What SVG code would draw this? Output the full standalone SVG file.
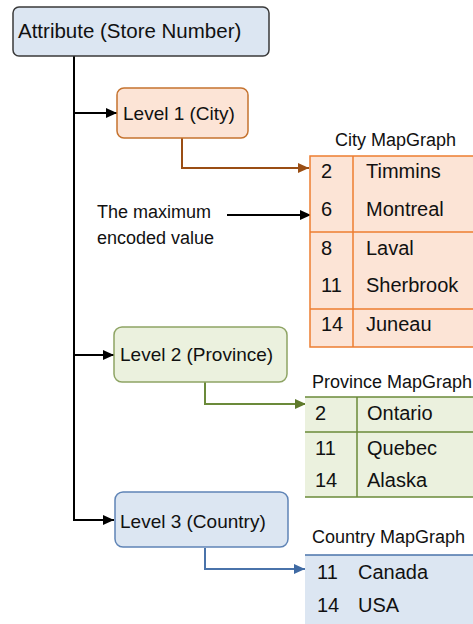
<svg xmlns="http://www.w3.org/2000/svg" width="473" height="624" viewBox="0 0 473 624">
<style>
text{font-family:"Liberation Sans",Arial,sans-serif;fill:#111;}
.lbl{font-size:19px;}
.cell{font-size:20px;}
.ttl{font-size:18px;}
.note{font-size:18px;}
.blk{stroke:#000;stroke-width:2;fill:none;}
</style>
<defs>
<marker id="aBlk" markerUnits="userSpaceOnUse" markerWidth="12" markerHeight="12" viewBox="0 0 12 12" refX="11" refY="6" orient="auto"><path d="M0,1 L11,6 L0,11 Z" fill="#000"/></marker>
<marker id="aOr" markerUnits="userSpaceOnUse" markerWidth="12" markerHeight="12" viewBox="0 0 12 12" refX="11" refY="6" orient="auto"><path d="M0,1 L11,6 L0,11 Z" fill="#9a4e14"/></marker>
<marker id="aGr" markerUnits="userSpaceOnUse" markerWidth="12" markerHeight="12" viewBox="0 0 12 12" refX="11" refY="6" orient="auto"><path d="M0,1 L11,6 L0,11 Z" fill="#5f7a2c"/></marker>
<marker id="aBl" markerUnits="userSpaceOnUse" markerWidth="12" markerHeight="12" viewBox="0 0 12 12" refX="11" refY="6" orient="auto"><path d="M0,1 L11,6 L0,11 Z" fill="#3f6aa3"/></marker>
</defs>
<rect width="473" height="624" fill="#fff"/>

<g id="connectors">
<path class="blk" d="M74,56 V520 H114" marker-end="url(#aBlk)"/>
<path class="blk" d="M74,113 H117" marker-end="url(#aBlk)"/>
<path class="blk" d="M74,355 H114" marker-end="url(#aBlk)"/>
<path d="M182,138 V168 H309" fill="none" stroke="#9a4e14" stroke-width="2" marker-end="url(#aOr)"/>
<path d="M205,382 V404 H306" fill="none" stroke="#6b8a3a" stroke-width="2" marker-end="url(#aGr)"/>
<path d="M205,548 V569 H305" fill="none" stroke="#4a73aa" stroke-width="2" marker-end="url(#aBl)"/>
<path class="blk" d="M227,215 H311" stroke-width="1.5" marker-end="url(#aBlk)"/>
</g>

<g id="attribute">
<rect x="13" y="7" width="256" height="49" rx="6" fill="#dce6f2" stroke="#3a3a3a" stroke-width="1.5"/>
<text x="18" y="38" style="font-size:20.5px">Attribute (Store Number)</text>
</g>

<g id="level1">
<rect x="117" y="88" width="131" height="50" rx="7" fill="#fce4d6" stroke="#c5732f" stroke-width="1.5"/>
<text class="lbl" x="123" y="120">Level 1 (City)</text>
</g>

<g id="level2">
<rect x="114" y="327" width="173" height="55" rx="8" fill="#ebf1de" stroke="#8ea464" stroke-width="1.5"/>
<text class="lbl" x="120" y="361">Level 2 (Province)</text>
</g>

<g id="level3">
<rect x="115" y="492" width="173" height="55" rx="8" fill="#dce6f2" stroke="#5f84b6" stroke-width="1.5"/>
<text class="lbl" x="120" y="528">Level 3 (Country)</text>
</g>

<g id="note">
<text class="note" x="97" y="218">The maximum</text>
<text class="note" x="97" y="244">encoded value</text>
</g>

<g id="city-mapgraph">
<text class="ttl" x="335" y="146">City MapGraph</text>
<rect x="310" y="156" width="175" height="191" fill="#fce4d6" stroke="#ed7d31" stroke-width="1.5"/>
<path d="M310,232 H473 M310,309 H473 M353,156 V347" stroke="#ed7d31" stroke-width="1.5" fill="none"/>
<text class="cell" x="321" y="178">2</text><text class="cell" x="366" y="178">Timmins</text>
<text class="cell" x="321" y="216">6</text><text class="cell" x="366" y="216">Montreal</text>
<text class="cell" x="321" y="255">8</text><text class="cell" x="366" y="255">Laval</text>
<text class="cell" x="321" y="292">11</text><text class="cell" x="366" y="292">Sherbrook</text>
<text class="cell" x="321" y="331">14</text><text class="cell" x="366" y="331">Juneau</text>
</g>

<g id="province-mapgraph">
<text class="ttl" x="312" y="388">Province MapGraph</text>
<rect x="305" y="397" width="170" height="100" fill="#ebf1de"/>
<path d="M305,397 H473 M305,432 H473 M305,497 H473 M357,397 V497" stroke="#6b8a3a" stroke-width="1.5" fill="none"/>
<text class="cell" x="315" y="420">2</text><text class="cell" x="367" y="420">Ontario</text>
<text class="cell" x="315" y="455">11</text><text class="cell" x="367" y="455">Quebec</text>
<text class="cell" x="315" y="487">14</text><text class="cell" x="367" y="487">Alaska</text>
</g>

<g id="country-mapgraph">
<text class="ttl" x="312" y="543">Country MapGraph</text>
<rect x="305" y="555" width="170" height="69" fill="#dce6f2"/>
<path d="M305,555 H473" stroke="#4a73aa" stroke-width="1.5"/>
<text class="cell" x="317" y="579">11</text><text class="cell" x="358" y="579">Canada</text>
<text class="cell" x="317" y="612">14</text><text class="cell" x="358" y="612">USA</text>
</g>
</svg>
